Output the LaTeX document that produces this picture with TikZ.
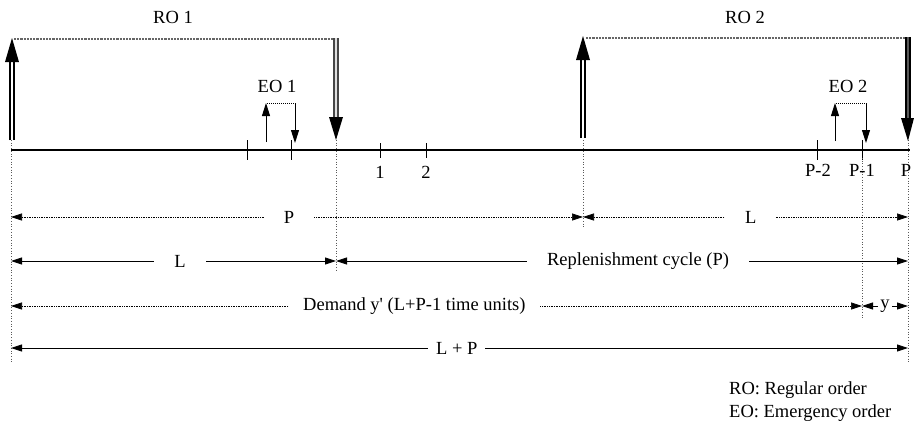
\documentclass[tikz,border=0pt]{standalone}
\usepackage{fontspec}
\setmainfont{Liberation Serif}
\usetikzlibrary{arrows.meta}
\begin{document}
\begin{tikzpicture}[x=1pt,y=-1pt,
  font=\fontsize{18.5}{20}\selectfont,
  axis/.style={line width=1.6pt},
  tickmark/.style={line width=0.9pt},
  guide/.style={dotted, line width=0.7pt, gray!70!black},
  topdots/.style={densely dotted, line width=2.2pt, gray!80!black},
  smalldots/.style={densely dotted, line width=1pt},
  smallarr/.style={line width=0.9pt, -{Triangle[length=13pt,width=8pt]}},
  dimsolid/.style={line width=0.9pt, {Triangle[length=11pt,width=7pt]}-{Triangle[length=11pt,width=7pt]}},
  dimdot/.style={densely dotted, line width=0.7pt, {Triangle[length=11pt,width=7pt]}-{Triangle[length=11pt,width=7pt]}},
  lbl/.style={fill=white, inner ysep=1pt},
  legend/.style={anchor=west, inner sep=0pt}
]
\useasboundingbox (0,0) rectangle (914,424);

% ---------- coordinates ----------
\coordinate (A0) at (11,150);   \coordinate (A1) at (910,150);

% ---------- axis ----------
\draw[axis] (A0) -- (A1);

% ticks
\foreach \x in {247,291,817,862} \draw[tickmark] (\x,140) -- (\x,160);
\foreach \x in {380,426} \draw[tickmark] (\x,143) -- (\x,158);

% tick labels
\node (l1) at (380,172) {1};
\node (l2) at (426,172) {2};
\node (lp2) at (818,170) {P-2};
\node (lp1) at (862,170) {P-1};
\node (lp) at (906,170) {P};

% ---------- guides ----------
\draw[guide] (11,140) -- (11,362);
\draw[guide] (336,140) -- (336,272);
\draw[guide] (583,140) -- (583,228);
\draw[guide] (862,158) -- (862,318);
\draw[guide] (908,140) -- (908,362);

% ---------- RO 1 ----------
\node (ro1) at (173,17) {RO 1};
\draw[topdots] (14,39) -- (336,39);
\draw[line width=1.3pt] (10,140) -- (10,60) (14,140) -- (14,60);
\fill (5,62) -- (19,62) -- (12,38) -- cycle;
\draw[line width=1.3pt, gray!55!black] (334,38) -- (334,120) (338,38) -- (338,120);
\fill[gray!25] (335,38) rectangle (337,120);
\fill (329,117) -- (343,117) -- (336,140) -- cycle;

% ---------- EO 1 ----------
\node (eo1) at (277,86) {EO 1};
\draw[smallarr] (266,142) -- (266,103);
\draw[smalldots] (267,103) -- (295,103);
\draw[smallarr] (295,103) -- (295,143);

% ---------- RO 2 ----------
\node (ro2) at (745,17) {RO 2};
\draw[topdots] (586,38) -- (908,38);
\draw[line width=1.3pt] (581,138) -- (581,58) (585,138) -- (585,58);
\fill (576,60) -- (590,60) -- (583,36) -- cycle;
\draw[line width=1.3pt] (906,37) -- (906,121) (910,37) -- (910,121);
\fill[gray!70!black] (907,37) rectangle (909,121);
\fill (901,118) -- (914,118) -- (908,141) -- cycle;

% ---------- EO 2 ----------
\node (eo2) at (848,86) {EO 2};
\draw[smallarr] (835,141) -- (835,103);
\draw[smalldots] (836,103) -- (866,103);
\draw[smallarr] (866,103) -- (866,143);

% ---------- dimension rows ----------
\coordinate (p0) at (11,217);  \coordinate (p1) at (583,217); \coordinate (p2) at (908,217);
\draw[dimdot] (p0) -- node[lbl, inner xsep=20pt, pos=0.486] {P} (p1);
\draw[dimdot] (p1) -- node[lbl, inner xsep=20pt, pos=0.516] {L} (p2);

\coordinate (q0) at (11,261);  \coordinate (q1) at (336,261); \coordinate (q2) at (908,261);
\draw[dimsolid] (q0) -- node[lbl, inner xsep=20pt, pos=0.52] {L} (q1);
\draw[dimsolid] (q1) -- node[lbl, inner xsep=20pt, pos=0.528] {Replenishment cycle (P)} (q2);

\coordinate (d0) at (11,306);  \coordinate (d1) at (862,306); \coordinate (d2) at (908,306);
\draw[dimdot] (d0) -- node[lbl, inner xsep=14pt, pos=0.474] {Demand y\textquotesingle{} (L+P-1 time units)} (d1);
\draw[dimsolid] (d1) -- node[lbl, inner xsep=2pt] {y} (d2);

\coordinate (e0) at (11,348);  \coordinate (e1) at (908,348);
\draw[dimsolid] (e0) -- node[lbl, inner xsep=8pt, pos=0.497] {L + P} (e1);

% ---------- legend ----------
\node[legend] (leg1) at (729,390) {RO: Regular order};
\node[legend] (leg2) at (729,413) {EO: Emergency order};
\end{tikzpicture}
\end{document}
